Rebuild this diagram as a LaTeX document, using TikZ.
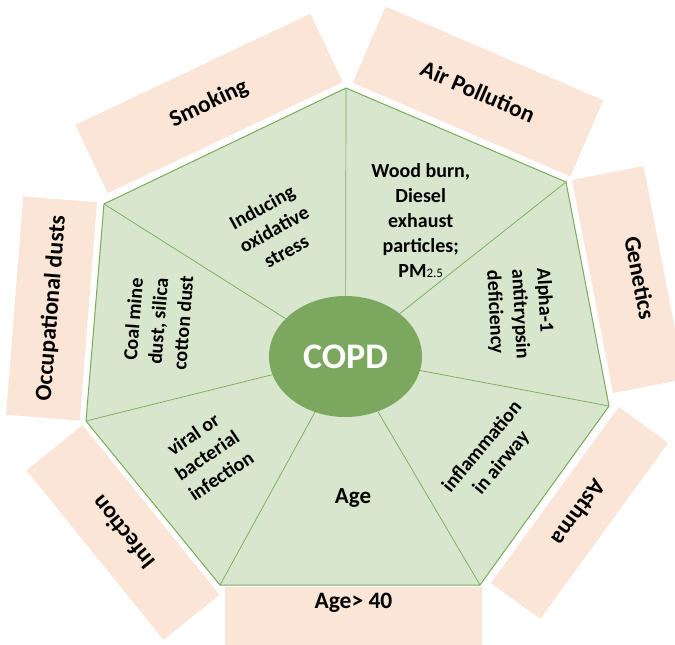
\documentclass[tikz,border=0pt]{standalone}
\usepackage{fontspec}
\setmainfont{Carlito}
\usetikzlibrary{shapes.geometric}
\definecolor{peach}{HTML}{FBE5D6}
\definecolor{leaf}{HTML}{D7E6CC}
\definecolor{rim}{HTML}{7AAB5A}
\definecolor{moss}{HTML}{7BA85E}

\begin{document}
\begin{tikzpicture}
[x=1pt, y=-1pt,
 box/.style={rectangle,fill=peach,inner sep=0pt,font=\fontsize{23.5}{28}\selectfont\bfseries},
 tag/.style={inner sep=0pt,font=\fontsize{23.5}{28}\selectfont\bfseries},
 cause/.style={inner sep=0pt,align=center,font=\fontsize{20}{25}\selectfont\bfseries},
 core/.style={ellipse,fill=moss,text=white,inner sep=0pt,minimum width=153pt,minimum height=121pt,font=\fontsize{36}{40}\selectfont\bfseries},
 rim line/.style={draw=rim,line width=1pt,fill=leaf,line join=round},
 spoke/.style={draw=rim,line width=0.7pt}]
\useasboundingbox (0,0) rectangle (675,645);
% corners of the heptagon
\coordinate (V1) at (346,88);
\coordinate (V2) at (566,182);
\coordinate (V3) at (609,406);
\coordinate (V4) at (480,585);
\coordinate (V5) at (220,585);
\coordinate (V6) at (86,421);
\coordinate (V7) at (104,204);
% outer boxes
\node[box,rotate=25.3,minimum width=260pt,minimum height=75.6pt] (smoke) at (209,103.5) {Smoking};
\node[box,rotate=-23.3,minimum width=237pt,minimum height=83pt]  (air)   at (478,91.5)  {Air Pollution};
\node[box,rotate=-79.1,minimum width=217pt,minimum height=73pt]  (gene)  at (628.3,279.6) {};
\node[tag,rotate=-79.1]                                          (genetext) at (640,278) {Genetics};
\node[box,rotate=-126,minimum width=217.6pt,minimum height=61pt] (asthma) at (579.5,513) {Asthma};
\node[box,anchor=north,minimum width=257pt,minimum height=70pt]  (agebox) at (353.5,587) {};
\node[tag]                                                       (agetext) at (353.5,603) {Age> 40};
\node[box,rotate=128.9,minimum width=218pt,minimum height=72pt]  (infect) at (123,532.5) {Infection};
\node[box,rotate=85.5,minimum width=219pt,minimum height=74pt]   (dust)   at (51.5,308.5) {Occupational dusts};
% heptagon, centre and spokes
\draw[rim line] (V1) -- (V2) -- (V3) -- (V4) -- (V5) -- (V6) -- (V7) -- cycle;
\node[core] (copd) at (345.5,356.5) {COPD};
\foreach \v in {1,...,7}
  \draw[spoke] (copd) -- (V\v);
% texts in the sectors
\node[cause,rotate=29]   (stress) at (274,229) {Inducing\\oxidative\\stress};
\node[cause]             (wood)   at (420.7,221) {Wood burn,\\Diesel\\exhaust\\particles;\\PM{\mdseries\fontsize{13}{13}\selectfont 2.5}};
\node[cause,rotate=-87,align=left] (alpha) at (520,314) {Alpha-1\\antitrypsin\\deficiency};
\node[cause,rotate=85.5] (coal)   at (158,321) {Coal mine\\dust, silica\\cotton dust};
\node[cause,rotate=34]   (viral)  at (207,455) {viral or\\bacterial\\infection};
\node[cause,font=\fontsize{23}{28}\selectfont\bfseries] (age) at (353,498) {Age};
\node[cause,rotate=50]   (airway) at (492,455) {inflammation\\in airway};
\end{tikzpicture}
\end{document}
